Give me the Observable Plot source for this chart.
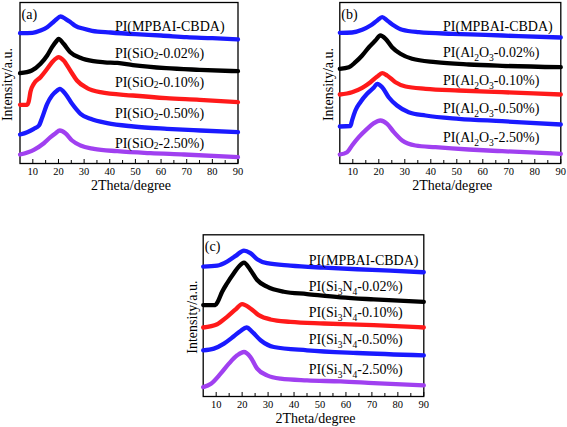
<!DOCTYPE html>
<html>
<head>
<meta charset="utf-8">
<script src="https://cdn.jsdelivr.net/npm/d3@7"></script>
<script src="https://cdn.jsdelivr.net/npm/@observablehq/plot@0.6"></script>
<style>
  html, body { margin: 0; padding: 0; background: #fff; }
  #root { position: relative; width: 567px; height: 427px; background: #fff; overflow: hidden; }
  #root > svg { position: absolute; }
</style>
</head>
<body>
<div id="root"></div>
<script>
// ---------- data (2θ in degrees, intensity in arbitrary offset units) ----------
const majorTicks = [10, 20, 30, 40, 50, 60, 70, 80, 90];
const minorTicks = [15, 25, 35, 45, 55, 65, 75, 85];
const seriesColors = ["#1a1aff", "#000000", "#ff1a1a", "#1a1aff", "#a040f0"];

// Panel (a): SiO2
const labelsA = ["PI(MPBAI-CBDA)", "PI(SiO₂-0.02%)", "PI(SiO₂-0.10%)", "PI(SiO₂-0.50%)", "PI(SiO₂-2.50%)"];
const a_pristine = [[5,130.3],[9.9,130.7],[13,133],[15.6,136.3],[17.5,140.3],[19.1,144],[20.8,147],[22.7,144.7],[24.7,141.3],[26.6,137.7],[29.9,134.7],[33.1,132.7],[40.3,131],[50,129.3],[60,128],[70,126.3],[80,125.3],[90,124]];
const a_002 = [[5,90.3],[9.6,93],[13,99.7],[15.6,108],[17.5,116.3],[19.4,123],[20,124.7],[22,119.7],[24.6,111.3],[28.5,105.7],[33.6,102.3],[38,101.2],[43,100.6],[49,98.4],[62,95.3],[75,93.7],[90,92.3]];
const a_010 = [[5,58.7],[7.8,58.7],[8.4,62],[9.1,72],[10.4,79.7],[13,86.3],[15.6,94.7],[17.5,101.3],[19.4,105.7],[20,106.3],[22,103],[24.6,93],[27.2,83],[31,75.7],[36.3,71.3],[49,68],[62,65.3],[75,63.7],[90,61.3]];
const a_050 = [[5,29],[7.8,31.3],[10.4,34.7],[12.4,38],[13.7,46.3],[15.6,59.7],[17.5,68],[19.5,73],[20.5,74.7],[22.7,69.7],[25.3,59.7],[28.6,49.7],[32.5,44.7],[39,40.3],[49.3,37],[62.3,34.7],[75.3,33],[90,31.3]];
const a_250 = [[5,9],[10.4,13.7],[14.3,20.3],[16.9,26.3],[18.9,30.3],[20.5,33],[22.7,30.3],[25.3,23],[28.6,18],[33.8,14.7],[42.9,12.3],[55.9,10.3],[68.9,9],[90,6.3]];
const labelYA = [137, 110.3, 81.3, 49.7, 20.3];

// Panel (b): Al2O3
const labelsB = ["PI(MPBAI-CBDA)", "PI(Al₂O₃-0.02%)", "PI(Al₂O₃-0.10%)", "PI(Al₂O₃-0.50%)", "PI(Al₂O₃-2.50%)"];
const b_pristine = [[5,130.7],[9.7,131],[13.6,133.7],[16.8,138],[19.4,143],[21.3,146.3],[23.2,143],[25.8,138],[29,133.7],[35.4,131.3],[48.2,129.7],[61,128.7],[73.8,127.3],[90,126]];
const b_002 = [[5,94.7],[8.5,96.3],[11,101.3],[13.6,108],[16.2,116.3],[18.7,123],[20.6,128],[22.6,124.7],[25.1,116.3],[28.3,109.7],[32.8,104.7],[41.8,101.3],[54.6,99],[67.4,97.7],[90,96.3]];
const b_010 = [[5,69],[9.7,71.3],[13.6,75.7],[16.8,81.3],[19.4,87],[21.3,90.3],[23.2,88],[26.4,81.3],[30.3,77],[38,74.7],[50.8,73],[67.4,71.3],[90,69]];
const b_050 = [[5,37],[9.1,37.5],[9.7,43],[11,53],[12.9,61.3],[15.5,69.7],[18,75.7],[19.4,79.7],[21.3,76.3],[23.8,66.3],[27,58],[31.5,51.3],[38,48],[50.8,44.7],[67.4,42.3],[90,39]];
const b_250 = [[5,9],[7.8,11.3],[9.7,18],[12.3,26.3],[15.5,34.7],[18.1,40.3],[20.6,43],[23.2,39.7],[25.8,31.3],[29,23],[34.1,18],[41.8,16.3],[54.6,14],[67.4,12.3],[90,9.7]];
const labelYB = [137, 111.3, 83, 54.7, 26.3];

// Panel (c): Si3N4
const labelsC = ["PI(MPBAI-CBDA)", "PI(Si₃N₄-0.02%)", "PI(Si₃N₄-0.10%)", "PI(Si₃N₄-0.50%)", "PI(Si₃N₄-2.50%)"];
const c_pristine = [[5,129.3],[10.4,130.3],[14.2,134.3],[17.5,140],[20.7,145.3],[23.2,142.7],[25.8,136.7],[29.6,132.7],[38.6,130.3],[51.5,128.3],[64.3,126.7],[77.1,125.3],[90,123.7]];
const c_002 = [[5,91],[9.7,91],[10.6,94.3],[12.3,104.3],[14.2,112.7],[16.8,122.7],[18.7,129.3],[20.7,133.3],[23.2,126],[25.8,116],[29.6,109.3],[36.1,104.3],[45,102],[57.9,98.7],[70.7,96.7],[90,94.3]];
const c_010 = [[5,68.7],[10.4,72],[14.2,79.3],[17.5,86.7],[20,92],[23.2,87.7],[26.4,81],[30.9,76.7],[38.6,74.3],[51.5,72.7],[70.7,71],[90,68.7]];
const c_050 = [[5,46],[9.1,47.7],[13,52.7],[16.8,60],[19.4,65.3],[21.7,68.7],[23.9,64.3],[27.1,56],[32.2,49.3],[45,46],[64.3,43.3],[90,41]];
const c_250 = [[5,9.3],[8,12.7],[11.7,22.7],[14.9,32.7],[18.1,41],[20.7,44.3],[23.2,39.3],[25.8,27.7],[29.6,21],[34.8,17.7],[45,16],[57.9,15],[70.7,13.3],[90,11]];
const labelYC = [135.3, 109.3, 83.3, 56.7, 26.7];

const xTitle = "2Theta/degree";
const yTitle = "Intensity/a.u.";

// ---------- drawing ----------
const FONT = "'Liberation Serif', 'Times New Roman', Times, serif";

function subscriptify(svg, shift) {
  const subs = "₀₁₂₃₄₅₆₇₈₉";
  svg.querySelectorAll("text").forEach(t => {
    if (t.querySelector("tspan")) return;
    const s = t.textContent;
    if (![...s].some(c => subs.includes(c))) return;
    t.textContent = "";
    let buf = "", mode = "n";
    const flush = () => {
      if (!buf) return;
      const ts = document.createElementNS("http://www.w3.org/2000/svg", "tspan");
      ts.textContent = buf;
      if (mode === "s") { ts.setAttribute("font-size", "0.68em"); ts.setAttribute("dy", shift); }
      else if (t.childNodes.length) { ts.setAttribute("dy", -shift); }
      t.appendChild(ts);
      buf = "";
    };
    for (const c of s) {
      const i = subs.indexOf(c);
      const m = i >= 0 ? "s" : "n";
      if (m !== mode) { flush(); mode = m; }
      buf += i >= 0 ? String(i) : c;
    }
    flush();
  });
}

function panel(cfg) {
  const marks = [
    Plot.frame({stroke: "black", strokeWidth: 1.3}),
    ...cfg.series.map((s, i) => Plot.line(s, {
      x: d => d[0], y: d => d[1], stroke: seriesColors[i], strokeWidth: 4.3,
      curve: "monotone-x", strokeLinejoin: "round"
    })),
    Plot.ruleX(majorTicks, {x: d => d, y1: 0, y2: 4, stroke: "black", strokeWidth: 1}),
    Plot.ruleX(minorTicks, {x: d => d, y1: 0, y2: 3, stroke: "black", strokeWidth: 1}),
    Plot.axisX({ticks: majorTicks, tickSize: 0, tickPadding: 4, label: null, fontSize: 10.5}),
    Plot.text(cfg.labels, {x: () => cfg.labelX, y: (d, i) => cfg.labelY[i], text: d => d,
      textAnchor: "start", fontSize: 14, fill: "black"}),
    Plot.text([cfg.letter], {x: () => 5.6, y: () => 149, text: d => d, textAnchor: "start", fontSize: 14}),
    Plot.text([yTitle], {frameAnchor: "left", dx: cfg.yDx, dy: 1.5, text: d => d, rotate: -90,
      textAnchor: "middle", lineAnchor: "middle", fontSize: 14}),
    Plot.text([xTitle], {frameAnchor: "bottom", dy: 22, dx: 2, text: d => d,
      textAnchor: "middle", lineAnchor: "middle", fontSize: 14})
  ];
  const svg = Plot.plot({
    width: cfg.width, height: cfg.height,
    marginLeft: cfg.ml, marginRight: cfg.mr, marginTop: cfg.mt, marginBottom: cfg.mb,
    x: {domain: [5, 90]},
    y: {domain: [0, 161], axis: null},
    style: {fontFamily: FONT, fontSize: "10.5px", color: "black", background: "transparent", overflow: "visible"},
    marks
  });
  svg.style.left = cfg.left + "px";
  svg.style.top = cfg.top + "px";
  subscriptify(svg, cfg.subShift);
  document.getElementById("root").appendChild(svg);
}

panel({series: [a_pristine, a_002, a_010, a_050, a_250], labels: labelsA, labelY: labelYA, labelX: 42,
  letter: "(a)", left: 0, top: 0, width: 245, height: 190, ml: 19.5, mr: 7.5, mt: 2, mb: 27, yDx: -12.5, subShift: 1.5});
panel({series: [b_pristine, b_002, b_010, b_050, b_250], labels: labelsB, labelY: labelYB, labelX: 44.7,
  letter: "(b)", left: 320, top: 0, width: 247, height: 190, ml: 19.3, mr: 6.7, mt: 2, mb: 27, yDx: -11, subShift: 4});
panel({series: [c_pristine, c_002, c_010, c_050, c_250], labels: labelsC, labelY: labelYC, labelX: 45.7,
  letter: "(c)", left: 183, top: 232, width: 248, height: 195, ml: 19.7, mr: 7.7, mt: 2.3, mb: 31, yDx: -11, subShift: 4});
</script>
</body>
</html>
